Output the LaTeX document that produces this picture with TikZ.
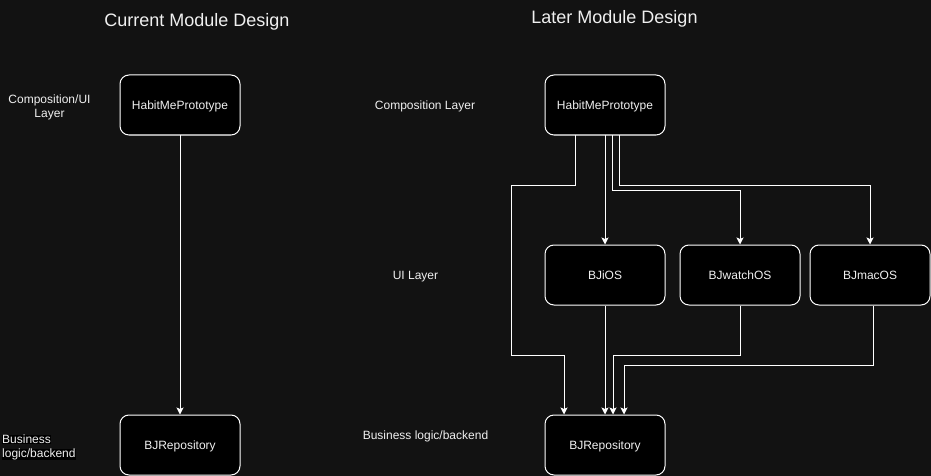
\documentclass[tikz,border=0pt]{standalone}
\usepackage{fontspec}
\setmainfont{Liberation Sans}
\usetikzlibrary{arrows.meta}
\definecolor{bg}{RGB}{18,18,18}
\definecolor{fg}{RGB}{240,240,240}
\begin{document}
\begin{tikzpicture}[x=1pt,y=-1pt,
  box/.style={draw=white,fill=black,rounded corners=9pt,minimum width=120pt,minimum height=60pt,line width=1pt,text=fg,font=\fontsize{12}{14}\selectfont,inner sep=0pt,text height=11.36pt,text depth=3.04pt},
  lbl/.style={text=fg,font=\fontsize{12}{14}\selectfont,align=center,inner sep=0pt,text height=11.36pt,text depth=3.04pt},
  ttl/.style={text=fg,font=\fontsize{18}{21}\selectfont,inner sep=0pt,text height=17pt,text depth=4.6pt},
  arr/.style={draw=white,line width=1pt,-{Stealth[length=7pt,width=7pt,inset=1.5pt]}}]
\fill[bg] (0,0) rectangle (931,476);
\useasboundingbox (0,0) rectangle (931,476);
% titles
\node[ttl] (t1) at (197,20.5) {Current Module Design};
\node[ttl] (t2) at (614.5,17.5) {Later Module Design};
% left labels
\node[lbl] (l1) at (49.5,113.5) {Composition/UI\\Layer};
\node[lbl,align=left,anchor=west] (l2) at (2,453.5) {\setlength{\fboxsep}{0pt}\colorbox{black}{Business}\\\setlength{\fboxsep}{0pt}\colorbox{black}{logic/backend}};
% right labels
\node[lbl] (r1) at (425,105.5) {Composition Layer};
\node[lbl] (r2) at (415.5,275.5) {UI Layer};
\node[lbl] (r3) at (425.5,435.5) {Business logic/backend};
% left boxes
\node[box] (hl) at (180,105) {HabitMePrototype};
\node[box] (bl) at (180,445) {BJRepository};
% right boxes
\node[box] (hr) at (605,105) {HabitMePrototype};
\node[box] (ios) at (605,275) {BJiOS};
\node[box] (wos) at (740,275) {BJwatchOS};
\node[box] (mos) at (870,275) {BJmacOS};
\node[box] (br) at (605,445) {BJRepository};
% connectors
\draw[arr] (hl.south) -- (bl.north);
\draw[arr] ([xshift=-29.5pt]hr.south) |- (511,185.5) |- (564,355.5) -- ([xshift=-41pt]br.north);
\draw[arr] (hr.south) -- (ios.north);
\draw[arr] ([xshift=7pt]hr.south) |- (740,190.5) -- (wos.north);
\draw[arr] ([xshift=14pt]hr.south) |- (870,185.5) -- (mos.north);
\draw[arr] (ios.south) -- (br.north);
\draw[arr] (wos.south) |- (613,355.5) -- ([xshift=8pt]br.north);
\draw[arr] ([xshift=3pt]mos.south) |- (624,365.5) -- ([xshift=19pt]br.north);
\end{tikzpicture}
\end{document}
